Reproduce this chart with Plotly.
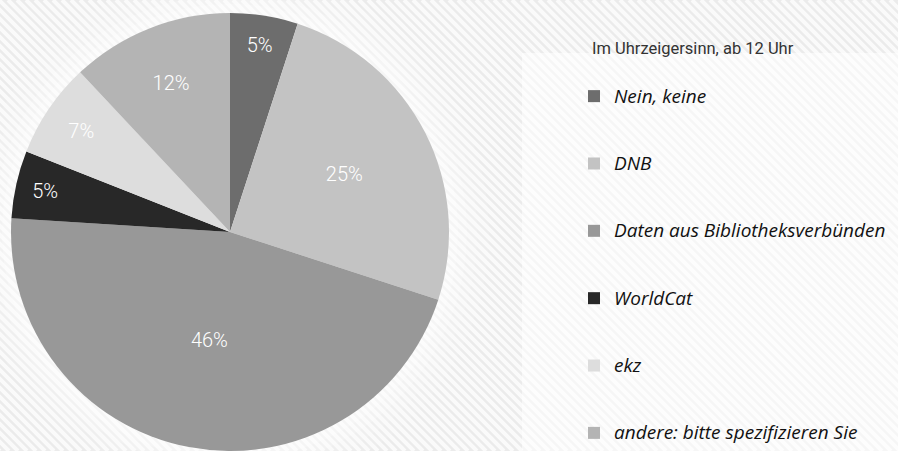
import plotly.graph_objects as go

labels = ["Nein, keine", "DNB", "Daten aus Bibliotheksverbünden", "WorldCat", "ekz",
          "andere: bitte spezifizieren Sie"]
values = [5, 25, 46, 5, 7, 12]
colors = ["#6d6d6d", "#c3c3c3", "#989898", "#282828", "#dddddd", "#b4b4b4"]
legend_title = "Im Uhrzeigersinn, ab 12 Uhr"

W, H = 898, 451

def px(x):
    return x / W

def py(y):
    return 1 - y / H

# background decoration: diagonal stripes
segs = []
for x0 in range(-460, W + 10, 9):
    segs.append(f"M {px(x0)} {py(0)} L {px(x0 + H)} {py(H)}")
shapes = [dict(type="path", path=" ".join(segs), xref="paper", yref="paper",
               line=dict(color="rgba(255,255,255,0.75)", width=4), layer="below")]

# soft halo around the pie
cx, cy, r = 230, 232, 219
for dr, op in [(40, 0.12), (28, 0.15), (18, 0.2), (9, 0.25)]:
    rr = r + dr
    shapes.append(dict(type="circle", xref="paper", yref="paper",
                       x0=px(cx - rr), x1=px(cx + rr), y0=py(cy + rr), y1=py(cy - rr),
                       fillcolor=f"rgba(255,255,255,{op})", line=dict(width=0), layer="below"))

# lighter legend panel
shapes.append(dict(type="rect", xref="paper", yref="paper",
                   x0=px(522), x1=1, y0=0, y1=py(53),
                   fillcolor="rgba(255,255,255,0.55)", line=dict(width=0), layer="below"))

legend_labels = [' <br> <br><span style="font-size:19px">' + l + "</span>" for l in labels]

fig = go.Figure(go.Pie(
    labels=legend_labels,
    values=values,
    sort=False,
    direction="clockwise",
    rotation=0,
    marker=dict(colors=colors, line=dict(width=0)),
    texttemplate="%{value}%",
    textposition="inside",
    insidetextorientation="horizontal",
    textfont=dict(color="white", size=20, family="Roboto", weight=300),
    domain=dict(x=[px(11), px(449)], y=[0, 438 / 451]),
    hoverinfo="label+percent",
))

fig.add_annotation(
    text=legend_title, xref="paper", yref="paper",
    x=px(590), y=py(48), xanchor="left", yanchor="middle", showarrow=False,
    font=dict(family="Roboto", size=16.5, color="#333333"),
)

fig.update_layout(
    width=W, height=H,
    margin=dict(l=0, r=0, t=0, b=0),
    paper_bgcolor="#ebebeb",
    plot_bgcolor="#ebebeb",
    shapes=shapes,
    showlegend=True,
    legend=dict(
        x=px(574), y=py(49), xanchor="left", yanchor="top",
        bgcolor="rgba(0,0,0,0)",
        font=dict(family="Open Sans", size=16.5, color="#111111", style="italic"),
        valign="bottom",
    ),
)

fig.write_html("out.html", config={"displayModeBar": False},
               post_script="document.body.style.margin='0';document.body.style.overflow='hidden';")
